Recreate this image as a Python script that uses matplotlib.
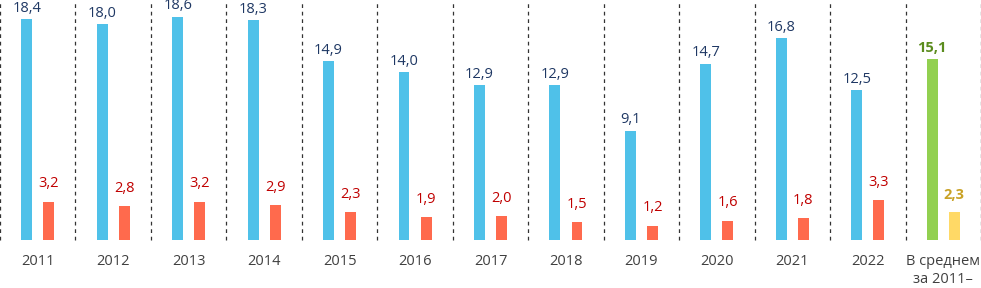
import matplotlib.pyplot as plt
import numpy as np

categories = ["2011", "2012", "2013", "2014", "2015", "2016", "2017",
              "2018", "2019", "2020", "2021", "2022", "В среднем\nза 2011–"]
series_a = [18.4, 18.0, 18.6, 18.3, 14.9, 14.0, 12.9, 12.9, 9.1, 14.7, 16.8, 12.5, 15.1]
series_b = [3.2, 2.8, 3.2, 2.9, 2.3, 1.9, 2.0, 1.5, 1.2, 1.6, 1.8, 3.3, 2.3]

plt.rcParams['font.family'] = ['Open Sans', 'DejaVu Sans']

fig = plt.figure(figsize=(9.81, 2.88), dpi=100)
ax = fig.add_axes([0, 48 / 288, 1, 240 / 288])

x = np.arange(len(categories))
off = 0.146
w = 0.145

col_a = ['#4FC1E9'] * 12 + ['#92D050']
col_b = ['#FF6A4D'] * 12 + ['#FFD966']
lab_a = ['#1F3864'] * 12 + ['#5B8C1E']
lab_b = ['#C00000'] * 12 + ['#C9A227']

ax.bar(x - off, series_a, width=w, color=col_a)
ax.bar(x + off, series_b, width=w, color=col_b)

fmt = lambda v: f"{v:.1f}".replace('.', ',')
for i in range(len(categories)):
    bold = 'bold' if i == 12 else 'normal'
    ax.annotate(fmt(series_a[i]), (x[i] - off, series_a[i]), xytext=(0, 2.5),
                textcoords='offset points', ha='center', va='bottom',
                fontsize=10.5, color=lab_a[i], fontweight=bold)
    ax.annotate(fmt(series_b[i]), (x[i] + off, series_b[i]), xytext=(0, 7.5),
                textcoords='offset points', ha='center', va='bottom',
                fontsize=10.5, color=lab_b[i], fontweight=bold)

for k in range(len(categories) + 1):
    ax.axvline(k - 0.5, color='#333333', lw=0.9, ls=(0, (3, 3)), clip_on=False)

ax.set_xlim(-0.5, len(categories) - 0.5)
ax.set_ylim(0, 20)
ax.set_xticks(x)
ax.set_xticklabels(categories, fontsize=10.5, color='#404040', va='top', linespacing=1.3)
ax.tick_params(axis='x', length=0, pad=10)
ax.set_yticks([])
for s in ax.spines.values():
    s.set_visible(False)

fig.savefig('out.png', dpi=100)
